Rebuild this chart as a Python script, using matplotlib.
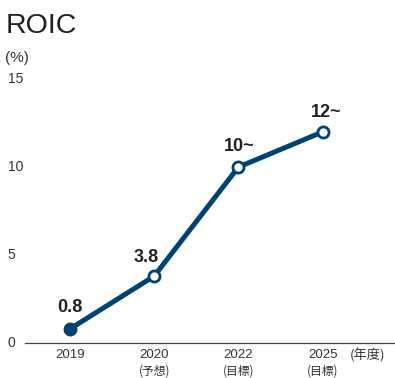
import matplotlib
matplotlib.use("Agg")
import matplotlib.pyplot as plt
import matplotlib.transforms as mtransforms

years = ["2019", "2020", "2022", "2025"]
notes = ["", "(予想)", "(目標)", "(目標)"]
roic = [0.8, 3.8, 10, 12]
value_labels = ["0.8", "3.8", "10~", "12~"]
yticks = [0, 5, 10, 15]

navy = "#004273"
textc = "#333333"
plt.rcParams["font.family"] = ["Liberation Sans", "Noto Sans CJK JP", "DejaVu Sans"]

fig = plt.figure(figsize=(3.95, 3.78), dpi=100)
ax = fig.add_axes([0.063, 0.0926, 0.937, 0.698])

x = list(range(len(years)))
ax.plot(x, roic, color=navy, linewidth=3.6, solid_capstyle="round", zorder=2)
ax.plot(x[0], roic[0], "o", color=navy, markersize=9, zorder=3)
ax.plot(x[1:], roic[1:], "o", markerfacecolor="white", markeredgecolor=navy,
        markeredgewidth=2.0, markersize=8, linestyle="none", zorder=3)

offsets = [(0, 21), (-8, 19), (1, 21), (4, 19)]
for xi, yi, lab, (dx, dy) in zip(x, roic, value_labels, offsets):
    ax.annotate(lab, (xi, yi), xytext=(dx * 0.72, dy * 0.72), textcoords="offset points",
                ha="center", va="center", fontsize=13, fontweight="bold",
                color="#222222")

ax.set_xlim(-0.535, 3.86)
ax.set_ylim(0, 15)
ax.set_yticks(yticks)
ax.set_yticklabels([])
ax.set_xticks(x)
ax.set_xticklabels([])

# y tick labels drawn at the far left of the figure
ytrans = mtransforms.blended_transform_factory(fig.transFigure, ax.transData)
for yv in yticks:
    ax.text(0.02, yv, str(yv), transform=ytrans, ha="left", va="center",
            fontsize=10, color=textc, clip_on=False)

for xi, yr, nt in zip(x, years, notes):
    ax.annotate(yr, (xi, 0), xytext=(0, -9), textcoords="offset points",
                ha="center", va="center", fontsize=9.5, color=textc)
    if nt:
        ax.annotate(nt, (xi, 0), xytext=(0, -20), textcoords="offset points",
                    ha="center", va="center", fontsize=8.5, color=textc,
                    family=["Noto Sans CJK JP"])
ax.annotate("(年度)", (1.0, 0), xycoords="axes fraction", xytext=(-20, -9),
            textcoords="offset points", ha="center", va="center", fontsize=9.5,
            color=textc, family=["Noto Sans CJK JP"])

ax.tick_params(axis="both", length=0)
for s in ["top", "right", "left"]:
    ax.spines[s].set_visible(False)
ax.spines["bottom"].set_color("#444444")
ax.spines["bottom"].set_linewidth(0.9)

fig.text(0.013, 0.932, "ROIC", fontsize=20.5, color="#231f20", va="center", ha="left")
fig.text(0.013, 0.847, "(%)", fontsize=11, color=textc, va="center", ha="left")

fig.savefig("out.png", dpi=100)
